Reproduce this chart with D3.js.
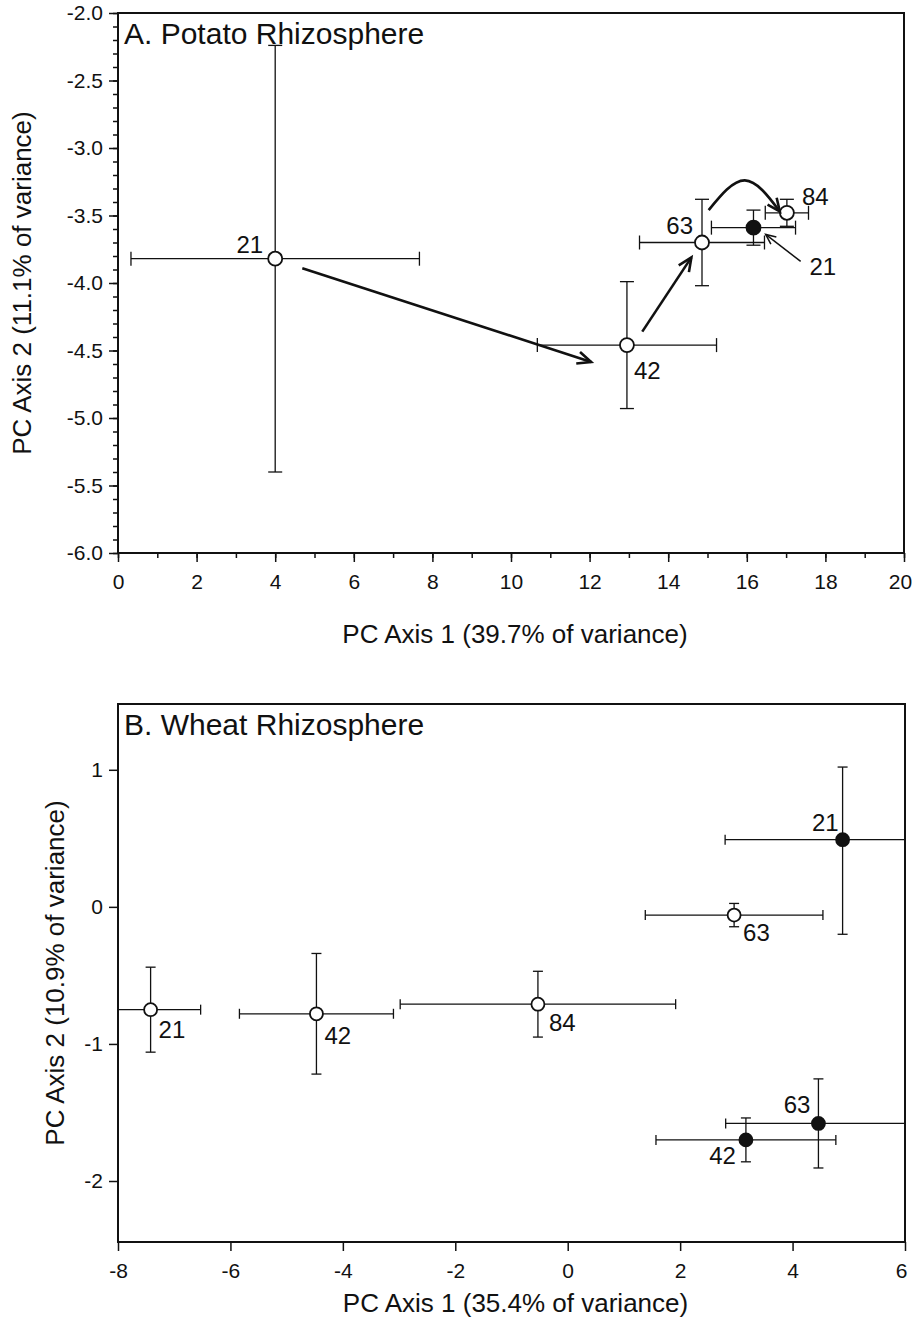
<!DOCTYPE html>
<html>
<head>
<meta charset="utf-8">
<script src="https://cdn.jsdelivr.net/npm/d3@7"></script>
<style>
  body { margin: 0; background: #fff; }
  svg { display: block; }
  text { font-family: "Liberation Sans", Arial, sans-serif; fill: #111; }
</style>
</head>
<body>
<div id="chart"></div>
<script>
// ---- A. Potato rhizosphere (PC scores, mean +/- error) ----
var potatoLabels = ['21', '42', '63', '84', '21'];
var potatoFilled = [false, false, false, false, true];
var potatoX      = [4.0, 12.95, 14.86, 17.02, 16.17];
var potatoY      = [-3.82, -4.46, -3.70, -3.48, -3.59];
var potatoXErr   = [3.67, 2.28, 1.59, 0.55, 1.07];
var potatoYErrLo = [1.58, 0.47, 0.32, 0.10, 0.13];
var potatoYErrHi = [1.58, 0.47, 0.32, 0.10, 0.13];
// trajectory arrows, in data units
var potatoArrows  = [[[4.69, -3.89], [12.04, -4.585]], [[13.34, -4.36], [14.59, -3.81]]];
var potatoCurve   = [[15.03, -3.46], [15.95, -3.24], [16.84, -3.47]];
var potatoPointer = [[17.37, -3.84], [16.48, -3.64]];
var potatoXTicks  = [0, 2, 4, 6, 8, 10, 12, 14, 16, 18, 20];
var potatoYTicks  = [-6.0, -5.5, -5.0, -4.5, -4.0, -3.5, -3.0, -2.5, -2.0];

// ---- B. Wheat rhizosphere ----
var wheatLabels  = ['21', '42', '84', '63', '21', '63', '42'];
var wheatFilled  = [false, false, false, false, true, true, true];
var wheatX       = [-7.42, -4.47, -0.53, 2.96, 4.89, 4.46, 3.17];
var wheatY       = [-0.75, -0.78, -0.71, -0.06, 0.49, -1.58, -1.70];
var wheatXErr    = [0.89, 1.37, 2.45, 1.58, 2.09, 1.65, 1.60];
var wheatYErrLo  = [0.31, 0.44, 0.24, 0.085, 0.69, 0.325, 0.16];
var wheatYErrHi  = [0.31, 0.44, 0.24, 0.085, 0.53, 0.325, 0.16];
var wheatXTicks  = [-8, -6, -4, -2, 0, 2, 4, 6];
var wheatYTicks  = [-2, -1, 0, 1];

var svg = d3.select('#chart').append('svg')
    .attr('width', 912)
    .attr('height', 1317);

function arrowHead(g, tip, from, len, width) {
  var a = Math.atan2(tip[1] - from[1], tip[0] - from[0]);
  var s = 0.42;
  var p1 = [tip[0] - len * Math.cos(a - s), tip[1] - len * Math.sin(a - s)];
  var p2 = [tip[0] - len * Math.cos(a + s), tip[1] - len * Math.sin(a + s)];
  g.append('path')
    .attr('d', 'M' + p1 + 'L' + tip + 'L' + p2)
    .attr('fill', 'none').attr('stroke', '#111')
    .attr('stroke-width', width).attr('stroke-linejoin', 'miter');
}

function drawPanel(p) {
  var x = d3.scaleLinear().domain(p.xDomain).range([p.left, p.right]);
  var y = d3.scaleLinear().domain(p.yDomain).range([p.bottom, p.top]);
  var g = svg.append('g');

  // minor ticks
  if (p.xMinor) {
    g.append('g').attr('transform', 'translate(0,' + p.bottom + ')')
      .call(d3.axisBottom(x).tickValues(p.xMinor).tickSize(5).tickFormat(''))
      .call(function(a) { a.select('.domain').remove(); });
  }
  if (p.yMinor) {
    g.append('g').attr('transform', 'translate(' + p.left + ',0)')
      .call(d3.axisLeft(y).tickValues(p.yMinor).tickSize(5).tickFormat(''))
      .call(function(a) { a.select('.domain').remove(); });
  }
  // major ticks + labels
  var xa = g.append('g').attr('transform', 'translate(0,' + p.bottom + ')')
    .call(d3.axisBottom(x).tickValues(p.xTicks).tickSize(9).tickPadding(12).tickFormat(p.xFmt));
  var ya = g.append('g').attr('transform', 'translate(' + p.left + ',0)')
    .call(d3.axisLeft(y).tickValues(p.yTicks).tickSize(9).tickPadding(6).tickFormat(p.yFmt));
  [xa, ya].forEach(function(a) {
    a.select('.domain').remove();
    a.selectAll('text').style('font-size', '21px').attr('fill', '#111');
  });
  // keep the last x label inside the page
  xa.selectAll('.tick:last-of-type text').attr('dx', '-4');
  g.selectAll('.tick line').attr('stroke', '#111').attr('stroke-width', 1.5);

  // frame
  g.append('rect')
    .attr('x', p.left).attr('y', p.top)
    .attr('width', p.right - p.left).attr('height', p.bottom - p.top)
    .attr('fill', 'none').attr('stroke', '#111').attr('stroke-width', 2);

  // error bars
  var bars = g.append('g').attr('stroke', '#111').attr('stroke-width', 1.3);
  var xmin = p.xDomain[0], xmax = p.xDomain[1];
  var ymin = p.yDomain[0], ymax = p.yDomain[1];
  var cap = p.cap;
  p.xs.forEach(function(d, i) {
    var cx = x(d), cy = y(p.ys[i]);
    var lo = d - p.xErr[i], hi = d + p.xErr[i];
    bars.append('line').attr('x1', x(Math.max(lo, xmin))).attr('x2', x(Math.min(hi, xmax)))
      .attr('y1', cy).attr('y2', cy);
    if (lo >= xmin) bars.append('line').attr('x1', x(lo)).attr('x2', x(lo)).attr('y1', cy - cap).attr('y2', cy + cap);
    if (hi <= xmax) bars.append('line').attr('x1', x(hi)).attr('x2', x(hi)).attr('y1', cy - cap).attr('y2', cy + cap);
    var vlo = p.ys[i] - p.yLo[i], vhi = p.ys[i] + p.yHi[i];
    bars.append('line').attr('x1', cx).attr('x2', cx)
      .attr('y1', y(Math.max(vlo, ymin))).attr('y2', y(Math.min(vhi, ymax)));
    if (vlo >= ymin) bars.append('line').attr('x1', cx - cap).attr('x2', cx + cap).attr('y1', y(vlo)).attr('y2', y(vlo));
    if (vhi <= ymax) bars.append('line').attr('x1', cx - cap).attr('x2', cx + cap).attr('y1', y(vhi)).attr('y2', y(vhi));
  });

  // points
  g.selectAll('circle.pt').data(p.xs).enter().append('circle')
    .attr('class', 'pt')
    .attr('cx', function(d) { return x(d); })
    .attr('cy', function(d, i) { return y(p.ys[i]); })
    .attr('r', p.r)
    .attr('fill', function(d, i) { return p.filled[i] ? '#111' : '#fff'; })
    .attr('stroke', '#111').attr('stroke-width', 1.8);

  // point labels
  p.xs.forEach(function(d, i) {
    var s = p.spots[i];
    g.append('text')
      .attr('x', x(d) + s[0]).attr('y', y(p.ys[i]) + s[1])
      .attr('text-anchor', s[2])
      .style('font-size', '24px')
      .text(p.labels[i]);
  });

  // panel title
  g.append('text').attr('x', p.left + 6).attr('y', p.top + 31)
    .style('font-size', '30px').text(p.title);

  // axis titles
  g.append('text').attr('x', (p.left + p.right) / 2 + 4).attr('y', p.xTitleY)
    .attr('text-anchor', 'middle').style('font-size', '26px').text(p.xTitle);
  g.append('text')
    .attr('transform', 'translate(' + p.yTitleX + ',' + (p.top + p.bottom) / 2 + ') rotate(-90)')
    .attr('text-anchor', 'middle').style('font-size', '26px').text(p.yTitle);

  return { g: g, x: x, y: y };
}

var A = drawPanel({
  left: 118, right: 904, top: 13, bottom: 553,
  xDomain: [0, 20], yDomain: [-6, -2],
  xTicks: potatoXTicks, yTicks: potatoYTicks,
  xMinor: d3.range(0, 21, 1),
  yMinor: d3.range(-60, -19, 1).map(function(v) { return v / 10; }),
  xFmt: function(d) { return String(d); },
  yFmt: function(d) { return d.toFixed(1); },
  xs: potatoX, ys: potatoY, xErr: potatoXErr, yLo: potatoYErrLo, yHi: potatoYErrHi,
  filled: potatoFilled, labels: potatoLabels,
  spots: [[-12, -6, 'end'], [7, 34, 'start'], [-9, -9, 'end'], [15, -8, 'start'], [56, 47, 'start']],
  r: 7, cap: 7,
  title: 'A. Potato Rhizosphere',
  xTitle: 'PC Axis 1 (39.7% of variance)', xTitleY: 643,
  yTitle: 'PC Axis 2 (11.1% of variance)', yTitleX: 31
});

var B = drawPanel({
  left: 118, right: 905, top: 704, bottom: 1242,
  xDomain: [-8, 6], yDomain: [-2.445, 1.48],
  xTicks: wheatXTicks, yTicks: wheatYTicks,
  xFmt: function(d) { return String(d); },
  yFmt: function(d) { return String(d); },
  xs: wheatX, ys: wheatY, xErr: wheatXErr, yLo: wheatYErrLo, yHi: wheatYErrHi,
  filled: wheatFilled, labels: wheatLabels,
  spots: [[8, 28, 'start'], [8, 30, 'start'], [11, 27, 'start'], [9, 26, 'start'],
          [-4, -9, 'end'], [-8, -10, 'end'], [-10, 24, 'end']],
  r: 6.5, cap: 5,
  title: 'B. Wheat Rhizosphere',
  xTitle: 'PC Axis 1 (35.4% of variance)', xTitleY: 1312,
  yTitle: 'PC Axis 2 (10.9% of variance)', yTitleX: 64
});

// trajectory arrows on panel A
potatoArrows.forEach(function(seg) {
  var a = [A.x(seg[0][0]), A.y(seg[0][1])], b = [A.x(seg[1][0]), A.y(seg[1][1])];
  A.g.append('line').attr('x1', a[0]).attr('y1', a[1]).attr('x2', b[0]).attr('y2', b[1])
    .attr('stroke', '#111').attr('stroke-width', 2.6);
  arrowHead(A.g, b, a, 15, 2.6);
});
var curvePts = potatoCurve.map(function(d) { return [A.x(d[0]), A.y(d[1])]; });
var curve = A.g.append('path')
  .attr('d', d3.line().curve(d3.curveNatural)(curvePts))
  .attr('fill', 'none').attr('stroke', '#111').attr('stroke-width', 2.6);
var len = curve.node().getTotalLength();
var near = curve.node().getPointAtLength(len - 8);
arrowHead(A.g, curvePts[2], [near.x, near.y], 14, 2.6);

var pa = [A.x(potatoPointer[0][0]), A.y(potatoPointer[0][1])];
var pb = [A.x(potatoPointer[1][0]), A.y(potatoPointer[1][1])];
A.g.append('line').attr('x1', pa[0]).attr('y1', pa[1]).attr('x2', pb[0]).attr('y2', pb[1])
  .attr('stroke', '#111').attr('stroke-width', 1.5);
arrowHead(A.g, pb, pa, 11, 1.5);
</script>
</body>
</html>
